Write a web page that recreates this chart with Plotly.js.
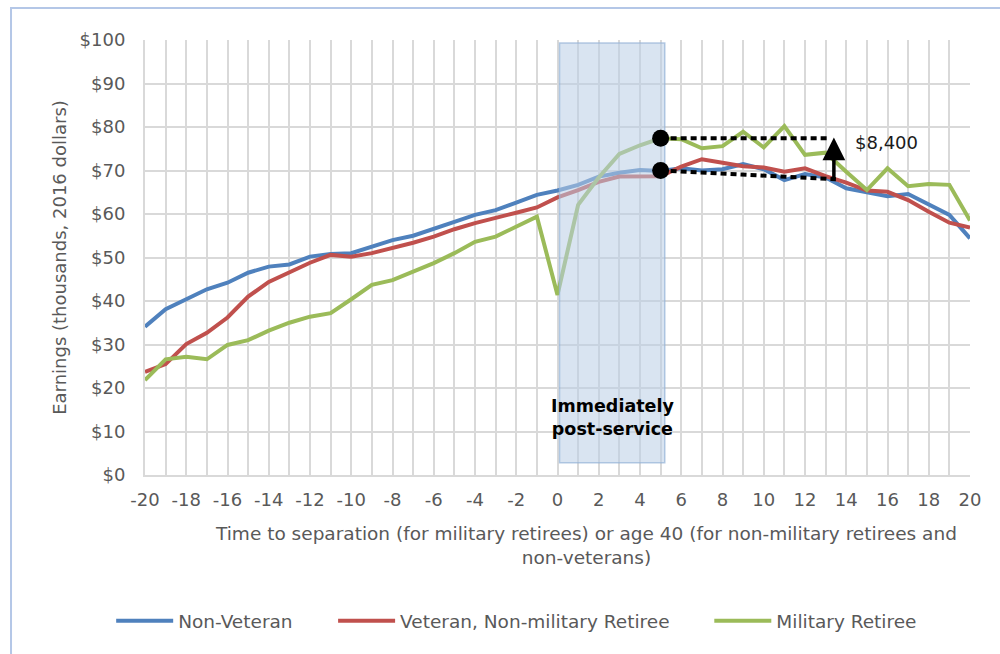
<!DOCTYPE html>
<html>
<head>
<meta charset="utf-8">
<script src="https://cdn.plot.ly/plotly-3.0.1.min.js"></script>
<style>
  html, body { margin: 0; padding: 0; background: #fff; }
  #chart { width: 1000px; height: 654px; }
</style>
</head>
<body>
<div id="chart"></div>
<script>
// Years relative to separation / age 40
const years = [
  -20, -19, -18, -17, -16, -15, -14, -13, -12, -11, -10, -9, -8, -7, -6, -5, -4, -3, -2, -1,
  0, 1, 2, 3, 4, 5, 6, 7, 8, 9, 10, 11, 12, 13, 14, 15, 16, 17, 18, 19, 20
];

// Earnings, thousands of 2016 dollars
const nonVeteran = [
  34.1, 38.1, 40.4, 42.7, 44.2, 46.5, 47.9, 48.4, 50.2, 50.8, 51.0, 52.6, 54.0, 55.0, 56.7, 58.2, 59.8, 60.9, 62.6, 64.4,
  65.4, 66.7, 68.6, 69.5, 70.1, 69.9, 70.5, 70.0, 70.3, 71.5, 70.3, 67.8, 69.2, 68.4, 65.9, 64.9, 64.1, 64.6, 62.1, 59.8, 54.4
];
const veteranNonRetiree = [
  23.7, 25.5, 30.1, 32.7, 36.2, 41.0, 44.4, 46.5, 48.8, 50.6, 50.2, 51.0, 52.1, 53.4, 54.8, 56.5, 57.9, 59.2, 60.3, 61.5,
  63.8, 65.5, 67.4, 68.6, 68.6, 68.7, 70.9, 72.6, 71.8, 71.0, 70.7, 69.7, 70.5, 68.7, 67.2, 65.4, 65.1, 63.2, 60.5, 58.0, 56.9
];
const militaryRetiree = [
  21.8, 26.6, 27.2, 26.6, 29.9, 31.0, 33.2, 35.0, 36.4, 37.2, 40.4, 43.7, 44.8, 46.7, 48.7, 51.0, 53.6, 54.8, 57.1, 59.4,
  41.4, 62.1, 68.4, 73.8, 75.8, 77.4, 77.2, 75.1, 75.6, 78.9, 75.3, 80.2, 73.6, 74.1, 69.7, 65.5, 70.5, 66.4, 66.9, 66.7, 58.5
];

const seriesNames = ['Non-Veteran', 'Veteran, Non-military Retiree', 'Military Retiree'];
const seriesColors = ['#4F81BD', '#C0504D', '#9BBB59'];
const legendIds = ['legend', 'legend2', 'legend3'];

// Tick labels
const xTickVals = [-20, -18, -16, -14, -12, -10, -8, -6, -4, -2, 0, 2, 4, 6, 8, 10, 12, 14, 16, 18, 20];
const xTickText = xTickVals.map(v => String(v));

// Annotation values: post-service window and the $8,400 gap
const windowStart = 0.1;
const windowEnd = 5.2;
const windowLow = 2.8;
const windowHigh = 99.3;
const dotX = [5, 5];
const dotY = [77.4, 70.0];
const upperDashX = [5, 13.2];
const upperDashY = [77.4, 77.4];
const lowerDashX = [5, 13.5];
const lowerDashY = [70.0, 68.0];
const gapX = 13.4;
const gapFrom = 67.8;
const gapTo = 77.6;
const gapLabel = '$8,400';

const gridColor = '#D9D9D9';
const textColor = '#595959';
const fontFamily = 'DejaVu Sans, Arial, sans-serif';
const fontSize = 18;
const wideFontSize = 18.5;

const traces = [nonVeteran, veteranNonRetiree, militaryRetiree].map((vals, i) => ({
    x: years,
    y: vals,
    type: 'scatter',
    mode: 'lines',
    name: seriesNames[i],
    legend: legendIds[i],
    line: { color: seriesColors[i], width: 4 },
    hoverinfo: 'x+y+name'
}));

function legendAt(x) {
    return {
        orientation: 'h',
        x: x,
        xanchor: 'left',
        y: -0.336,
        yanchor: 'middle',
        itemwidth: 57,
        font: { family: fontFamily, size: wideFontSize, color: textColor },
        bgcolor: 'rgba(0,0,0,0)'
    };
}

const shapes = [
    // Immediately post-service window (drawn over the lines)
    {
        type: 'rect', xref: 'x', yref: 'y',
        x0: windowStart, x1: windowEnd, y0: windowLow, y1: windowHigh,
        fillcolor: 'rgba(185, 205, 229, 0.55)',
        line: { color: 'rgba(149, 179, 215, 0.7)', width: 1.5 },
        layer: 'above'
    },
    // Outer chart frame
    {
        type: 'rect', xref: 'paper', yref: 'paper',
        x0: -0.1624, x1: 1.1, y0: -0.5, y1: 1.0736,
        line: { color: '#B4C7E7', width: 2 },
        fillcolor: 'rgba(0,0,0,0)',
        layer: 'below'
    },
    // Dotted comparison lines
    {
        type: 'line', xref: 'x', yref: 'y',
        x0: upperDashX[0], x1: upperDashX[1], y0: upperDashY[0], y1: upperDashY[1],
        line: { color: '#000', width: 4, dash: '6px,4px' }, layer: 'above'
    },
    {
        type: 'line', xref: 'x', yref: 'y',
        x0: lowerDashX[0], x1: lowerDashX[1], y0: lowerDashY[0], y1: lowerDashY[1],
        line: { color: '#000', width: 4, dash: '6px,4px' }, layer: 'above'
    }
];

// End-of-window dots, sized in pixels
dotX.forEach((x, i) => {
    shapes.push({
        type: 'circle', xref: 'x', yref: 'y',
        xsizemode: 'pixel', ysizemode: 'pixel',
        xanchor: x, yanchor: dotY[i],
        x0: -8.5, x1: 8.5, y0: -8.5, y1: 8.5,
        fillcolor: '#000', line: { width: 0 }, layer: 'above'
    });
});

const layout = {
    width: 1000,
    height: 654,
    paper_bgcolor: '#fff',
    plot_bgcolor: '#fff',
    font: { family: fontFamily, size: fontSize, color: textColor },
    margin: { l: 145, r: 30, t: 40, b: 179, pad: 0 },
    showlegend: true,
    legend: legendAt(-0.041),
    legend2: legendAt(0.228),
    legend3: legendAt(0.684),
    xaxis: {
        range: [-20, 20],
        tickmode: 'array',
        tickvals: xTickVals,
        ticktext: xTickText,
        showgrid: true,
        gridcolor: gridColor,
        gridwidth: 2,
        minor: { dtick: 1, tick0: -20, showgrid: true, gridcolor: gridColor, gridwidth: 2 },
        zeroline: false,
        showline: true,
        linecolor: gridColor,
        linewidth: 2,
        ticks: '',
        ticklabelstandoff: 7,
        tickfont: { size: fontSize, color: textColor },
        fixedrange: true
    },
    yaxis: {
        range: [0, 100],
        dtick: 10,
        tickprefix: '$',
        showgrid: true,
        gridcolor: gridColor,
        gridwidth: 2,
        zeroline: false,
        showline: true,
        linecolor: gridColor,
        linewidth: 2,
        ticks: '',
        ticklabelstandoff: 14,
        tickfont: { size: fontSize, color: textColor },
        title: {
            text: 'Earnings (thousands, 2016 dollars)',
            font: { size: fontSize, color: textColor },
            standoff: 8
        },
        fixedrange: true
    },
    shapes: shapes,
    annotations: [
        {
            xref: 'paper', yref: 'paper', x: 0.5345, y: -0.163,
            xanchor: 'center', yanchor: 'middle',
            text: 'Time to separation (for military retirees) or age 40 (for non-military retirees and<br>non-veterans)',
            showarrow: false,
            font: { size: wideFontSize, color: textColor }
        },
        {
            xref: 'x', yref: 'y', x: (windowStart + windowEnd) / 2, y: 13.3,
            xanchor: 'center', yanchor: 'middle',
            text: '<b>Immediately<br>post-service</b>',
            showarrow: false,
            font: { size: 17.5, color: '#000' }
        },
        {
            xref: 'x', yref: 'y', x: gapX, y: gapTo,
            axref: 'x', ayref: 'y', ax: gapX, ay: gapFrom,
            text: '', showarrow: true,
            arrowhead: 2, arrowsize: 1.3, arrowwidth: 3.5, arrowcolor: '#000',
            standoff: 0, startstandoff: 0
        },
        {
            xref: 'x', yref: 'y', x: gapX + 0.95, y: 76.4,
            xanchor: 'left', yanchor: 'middle',
            text: gapLabel, showarrow: false,
            font: { size: fontSize, color: '#1a1a1a' }
        }
    ],
    hovermode: 'closest'
};

const config = {
    responsive: false,
    displayModeBar: false
};

Plotly.newPlot('chart', traces, layout, config);
</script>
</body>
</html>
